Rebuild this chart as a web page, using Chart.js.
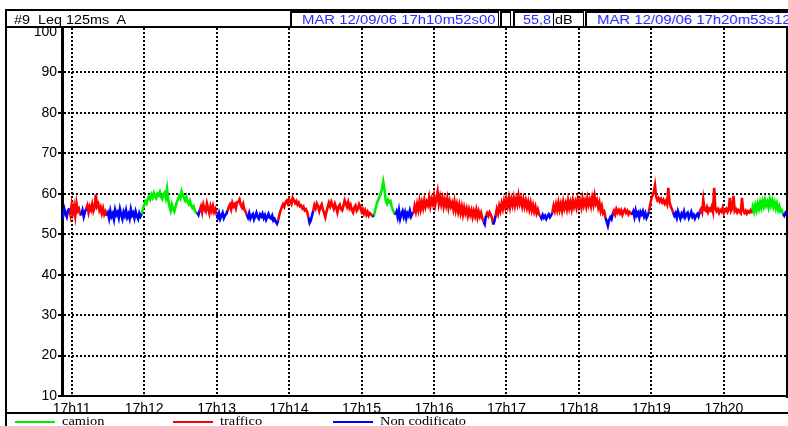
<!DOCTYPE html>
<html>
<head>
<meta charset="utf-8">
<script src="https://cdn.jsdelivr.net/npm/chart.js@4.4.1/dist/chart.umd.min.js"></script>
<style>
  html, body { margin: 0; padding: 0; background: #fff; }
  #wrap { position: relative; width: 788px; height: 426px; overflow: hidden;
          font-family: "Liberation Sans", Arial, sans-serif; }
  #c { position: absolute; left: 0; top: 0; }
  .rule { position: absolute; background: #000; }
  .txt { position: absolute; white-space: pre; transform-origin: 0 50%; line-height: 14px; }
  .box { position: absolute; box-sizing: border-box; border: 1px solid #000;
         border-left-width: 2px; border-top-width: 2px; background: #fff; }
  .blue { color: #2a2aff; }
  .leg { position: absolute; height: 2px; width: 40px; top: 421px; }
  .legtxt { position: absolute; top: 414px; white-space: nowrap; transform-origin: 0 50%;
            font-family: "Liberation Serif", "Times New Roman", serif; font-size: 12px;
            line-height: 14px; transform: scaleX(1.2); }
</style>
</head>
<body>
<div id="wrap">
  <canvas id="c" width="788" height="426"></canvas>

  <!-- frame and header row -->
  <div class="rule" style="left:5px;top:9px;width:783px;height:2px"></div>
  <div class="rule" style="left:5px;top:9px;width:2px;height:417px"></div>
  <div class="rule" style="left:5px;top:26px;width:783px;height:2px"></div>
  <div class="rule" style="left:786px;top:9px;width:2px;height:389px"></div>
  <div class="rule" style="left:5px;top:412px;width:783px;height:2px"></div>

  <div class="txt" id="chan" style="left:14px;top:13px;font-size:12px;transform:scaleX(1.2)"></div>

  <div class="box" style="left:290px;top:11px;width:209px;height:16px"></div>
  <div class="txt blue" id="tStart" style="left:302px;top:13px;font-size:12px;transform:scaleX(1.24)"></div>

  <div class="box" style="left:500px;top:11px;width:11px;height:16px"></div>

  <div class="box" style="left:513px;top:11px;width:71px;height:16px"></div>
  <div class="rule" style="left:553px;top:11px;width:1px;height:16px"></div>
  <div class="txt blue" id="mean" style="left:523px;top:13px;font-size:12px;transform:scaleX(1.2)"></div>
  <div class="txt" style="left:555px;top:13px;font-size:12px;transform:scaleX(1.2)">dB</div>

  <div class="box" style="left:585px;top:11px;width:210px;height:16px"></div>
  <div class="txt blue" id="tEnd" style="left:597px;top:13px;font-size:12px;transform:scaleX(1.24)"></div>

  <!-- legend row -->
  <div id="legend"></div>
</div>

<script>
// Measurement header
const channelLabel = '#9  Leq 125ms  A';
const startStamp = 'MAR 12/09/06 17h10m52s00';
const endStamp = 'MAR 12/09/06 17h20m53s12';
const meanLeq = '55,8';

// Axes: seconds after 17h10m52s00, level in dB
const durationSec = 601.12;
const minuteTicks = [8, 68, 128, 188, 248, 308, 368, 428, 488, 548];
const minuteLabels = ['17h11', '17h12', '17h13', '17h14', '17h15', '17h16', '17h17', '17h18', '17h19', '17h20'];
const levelTicks = [10, 20, 30, 40, 50, 60, 70, 80, 90, 100];

// Source coding: C = camion, T = traffico, N = Non codificato
const sourceCodes = ['C', 'T', 'N'];
const sourceNames = ['camion', 'traffico', 'Non codificato'];

// Coded runs, one Leq value per second, in time order
const runSource = ['N','T','N','T','N','C','N','T','N','T','N','T','N','T','N','C',
                   'N','T','N','T','N','T','N','T','N','T','N','T','N','T','C','N'];
const runLevels = [
  [55.4, 54.6, 56.2, 55.1, 54.3, 55.8],
  [56.4, 54.8, 57.2, 55.3, 56.9, 54.6, 57.6, 55.8, 56.3, 55.0],
  [54.7, 55.9, 54.4, 55.6],
  [56.2, 57.1, 55.4, 56.8, 56.0, 57.4, 55.7, 56.6, 59.8, 56.9, 57.5, 55.9, 56.7, 55.2, 56.4, 54.9, 55.6],
  [54.6, 55.3, 53.9, 55.8, 54.4, 55.1, 53.7, 56.0, 54.8, 55.4, 54.1, 56.2, 54.9, 53.8, 55.5, 54.6, 55.9,
   54.2, 55.0, 53.9, 56.1, 54.7, 55.3, 54.0, 55.6, 54.5, 53.8, 55.2, 54.4],
  [55.0, 56.3, 57.2, 58.1, 57.6, 58.8, 59.3, 58.6, 59.8, 59.1, 60.2, 59.4, 58.9, 60.0, 59.6, 60.4, 59.2,
   58.7, 59.9, 60.3, 59.0, 61.2, 58.4, 56.9, 55.8, 57.3, 56.2, 55.6, 56.8, 57.9, 58.6, 59.4, 58.8, 60.6,
   59.7, 59.0, 58.3, 59.2, 58.0, 57.4, 58.2, 57.1, 56.5, 56.9, 55.8, 55.3],
  [55.4, 54.8],
  [55.9, 56.8, 55.4, 57.3, 56.1, 55.6, 57.6, 56.4, 55.2, 56.9, 55.8, 57.0, 55.5, 56.2],
  [54.9, 54.1, 55.2, 53.8, 54.6, 55.3, 54.0, 54.7, 55.0],
  [55.8, 56.7, 57.3, 56.2, 57.8, 56.9, 57.4, 56.4, 57.9, 58.0, 58.6, 57.2, 56.6, 57.5, 56.1, 55.6],
  [54.8, 54.1, 55.2, 53.9, 54.6, 55.0, 53.7, 54.5, 55.3, 54.2, 53.8, 54.9, 54.4, 55.1, 54.0, 54.7, 53.6,
   54.3, 55.0, 54.1, 53.9, 54.6, 53.4, 53.8, 53.1, 52.6],
  [53.4, 54.8, 55.9, 56.7, 57.4, 56.8, 57.9, 58.3, 57.6, 58.7, 58.1, 57.5, 59.0, 58.4, 57.7, 58.2, 57.3,
   57.8, 56.9, 57.1, 56.4, 56.8, 55.9, 56.2, 55.5],
  [54.2, 52.8, 53.4, 54.6],
  [55.8, 57.2, 56.4, 57.6, 56.9, 55.7, 56.8, 57.4, 56.1, 55.3, 54.2, 55.6, 56.7, 57.8, 56.9, 58.0, 57.1,
   56.3, 57.5, 56.6, 55.4, 56.8, 57.3, 56.2, 55.9, 57.0, 58.4, 57.6, 56.8, 57.9, 56.5, 57.2, 56.0, 55.4,
   56.6, 57.1, 55.8, 56.3, 57.4, 56.7, 55.6, 56.2, 55.1, 55.9, 54.8, 55.5, 54.6, 55.2, 54.9],
  [54.5],
  [54.3, 55.6, 56.8, 57.9, 58.6, 59.4, 60.1, 61.3, 63.0, 61.2, 58.4, 57.6, 58.5, 57.9, 58.2, 56.8, 55.9, 55.2],
  [54.8, 55.6, 54.2, 55.9, 53.8, 54.9, 55.7, 54.3, 55.4, 53.9, 55.2, 54.6, 55.8, 54.4, 55.1],
  [55.2, 57.0, 55.6, 57.4, 56.0, 58.1, 56.2, 57.9, 56.5, 58.4, 56.8, 58.0, 57.2, 59.1, 57.0, 58.6, 57.5,
   59.4, 57.3, 58.8, 60.5, 57.6, 59.2, 57.4, 58.9, 56.9, 58.5, 57.1, 58.8, 56.6, 58.2, 56.9, 57.8, 56.2,
   58.0, 55.9, 57.4, 55.6, 57.2, 55.3, 56.8, 54.9, 56.6, 55.2, 56.3, 54.6, 56.1, 54.8, 55.9, 54.3, 55.7,
   54.5, 56.0, 54.2, 55.6, 54.4, 55.3, 54.0],
  [53.1, 52.5],
  [54.6, 55.2, 54.5, 55.4, 54.8, 54.1],
  [52.4, 53.2],
  [54.6, 56.2, 55.1, 57.0, 55.8, 57.6, 56.3, 58.2, 56.7, 58.5, 57.0, 58.9, 56.8, 58.6, 57.2, 59.0, 57.1,
   58.7, 57.4, 59.5, 57.6, 58.8, 57.0, 58.6, 56.9, 58.3, 56.6, 58.0, 56.2, 57.7, 55.9, 57.2, 55.6, 56.8,
   55.2, 56.1, 54.9],
  [54.5, 53.9, 54.8, 54.1, 54.6, 53.8, 54.4, 54.9, 54.2, 54.7],
  [55.3, 57.0, 55.8, 57.4, 56.0, 57.8, 56.1, 57.5, 55.9, 58.0, 56.4, 57.6, 56.2, 58.3, 56.5, 57.9, 56.3,
   58.4, 56.8, 58.0, 56.6, 58.6, 57.0, 58.2, 56.7, 58.8, 57.1, 58.3, 56.9, 58.9, 57.3, 58.5, 57.0, 59.0,
   57.4, 59.5, 57.6, 58.4, 56.6, 57.8, 55.8, 56.9, 55.2, 55.6],
  [54.0, 53.2, 52.1, 53.5, 54.2, 53.7],
  [55.1, 55.8, 54.9, 56.2, 55.4, 56.0, 55.2, 55.9, 54.8, 55.6, 56.1, 55.3, 55.8, 54.9, 55.5, 55.2],
  [54.8, 55.6, 54.3, 55.9, 54.7, 55.3, 54.1, 55.5, 54.9, 55.7, 54.4, 55.2, 54.0, 54.6],
  [55.6, 57.3, 58.8, 59.6, 60.4, 62.1, 59.2, 58.4, 58.9, 58.1, 58.7, 57.9, 58.5, 57.6, 58.2, 57.4, 61.5,
   58.0, 56.9, 56.2],
  [55.4, 54.6, 55.2, 54.1, 55.7, 54.8, 53.9, 55.1, 54.5, 55.6, 54.2, 54.9, 55.3, 54.0, 54.7, 55.5, 54.3,
   54.8, 53.9, 54.6, 55.0, 54.4],
  [55.6, 56.2, 55.4, 58.5, 56.1, 55.8, 56.7, 55.5, 56.3, 55.9, 56.8, 55.6, 61.5, 56.4, 55.7, 56.2, 55.3,
   56.0, 55.6, 56.5, 55.2, 55.9, 56.3, 55.5, 56.1, 59.0, 55.8, 56.4, 59.5, 55.7, 56.2, 55.4, 56.0, 55.6,
   55.2, 59.0, 55.9, 55.3, 55.8, 55.1, 55.7, 55.4, 55.9],
  [55.2, 56.8, 55.6, 57.2, 55.9, 57.5, 56.3, 57.9, 56.6, 58.2, 56.9, 58.5, 57.1, 58.0, 56.7, 58.6, 57.2,
   58.4, 56.8, 57.9, 56.4, 57.6, 56.0, 56.9, 55.6, 55.9],
  [55.1, 54.6, 55.3, 54.8, 55.0]
];

const sourceColors = { C: '#00ee00', T: '#ff0000', N: '#0000ff' };

// Header and legend text
document.getElementById('chan').textContent = channelLabel;
document.getElementById('tStart').textContent = startStamp;
document.getElementById('tEnd').textContent = endStamp;
document.getElementById('mean').textContent = meanLeq;

const legend = document.getElementById('legend');
const legendX = [15, 173, 333];
sourceCodes.forEach((code, i) => {
  const line = document.createElement('div');
  line.className = 'leg';
  line.style.left = legendX[i] + 'px';
  line.style.background = sourceColors[code];
  legend.appendChild(line);
  const label = document.createElement('div');
  label.className = 'legtxt';
  label.style.left = (legendX[i] + 47) + 'px';
  label.textContent = sourceNames[i];
  legend.appendChild(label);
});

// Flatten runs into one time series with a source code per second
const levels = [];
const owner = [];
runLevels.forEach((run, r) => run.forEach(v => { levels.push(v); owner.push(runSource[r]); }));

// Each source gets its own line; the first sample of the following run is
// kept so the trace stays continuous across colour changes.
function seriesFor(code) {
  return levels.map((v, t) => {
    const on = owner[t] === code || (t > 0 && owner[t - 1] === code);
    return { x: t, y: on ? v : null };
  });
}

const datasets = ['N', 'T', 'C'].map(code => ({
  label: sourceNames[sourceCodes.indexOf(code)],
  data: seriesFor(code),
  borderColor: sourceColors[code],
  borderWidth: 2.6,
  pointRadius: 0,
  tension: 0,
  spanGaps: false
}));

const tickFont = { family: '"Liberation Sans", Arial, sans-serif', size: 14 };

new Chart(document.getElementById('c'), {
  type: 'line',
  data: { datasets },
  options: {
    responsive: false,
    animation: false,
    devicePixelRatio: 1,
    layout: { padding: { top: 28, left: 0, right: 0, bottom: 0 } },
    plugins: { legend: { display: false }, tooltip: { enabled: false } },
    scales: {
      x: {
        type: 'linear',
        min: 0,
        max: durationSec,
        afterFit: s => { s.height = 30; },
        afterBuildTicks: s => { s.ticks = minuteTicks.map(v => ({ value: v })); },
        ticks: {
          autoSkip: false, maxRotation: 0, padding: 5, color: '#000', font: tickFont,
          callback: (v, i) => minuteLabels[i]
        },
        grid: { color: '#000', lineWidth: 2, drawTicks: false },
        border: { display: true, color: '#000', width: 2, dash: [2, 2] }
      },
      y: {
        min: 10,
        max: 101,
        afterFit: s => { s.width = 62; },
        afterBuildTicks: s => { s.ticks = levelTicks.map(v => ({ value: v })); },
        ticks: { padding: 1, color: '#000', font: tickFont },
        grid: {
          color: ctx => (ctx.tick && ctx.tick.value === 100) ? 'rgba(0,0,0,0)' : '#000',
          lineWidth: 2, tickLength: 4, tickBorderDash: []
        },
        border: { display: true, color: '#000', width: 3, dash: [2, 2] }
      }
    }
  }
});
</script>
</body>
</html>
